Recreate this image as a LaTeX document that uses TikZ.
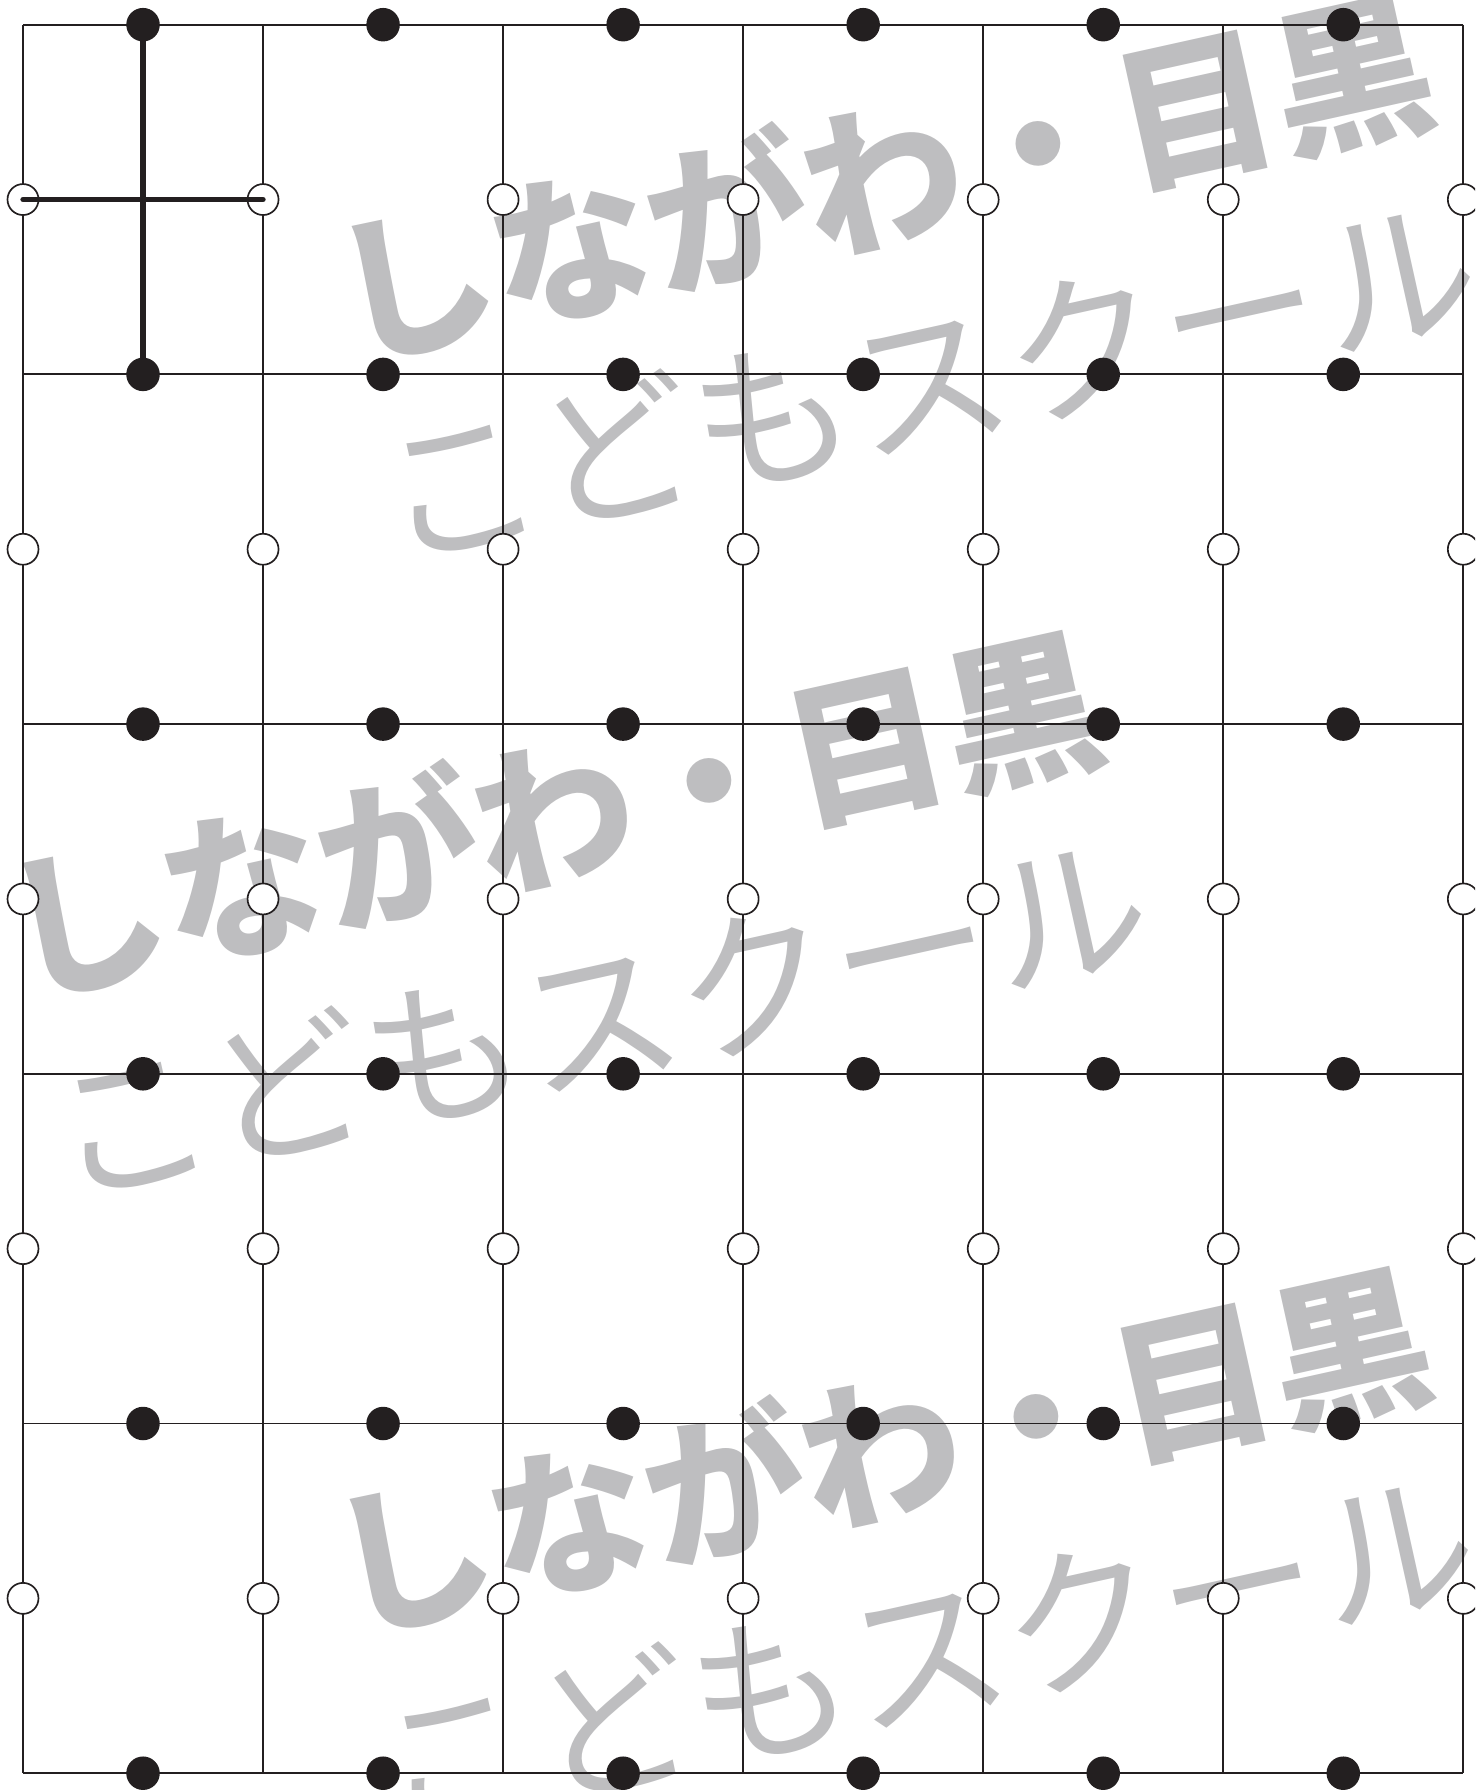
\documentclass[tikz,border=0pt]{standalone}
\usepackage{fontspec}
\newfontfamily\cjk{Noto Sans CJK JP}
\definecolor{inkblack}{RGB}{35,31,32}
\definecolor{markgray}{RGB}{190,190,192}

\begin{document}
\begin{tikzpicture}[
  x=0.02cm, y=-0.02cm,
  gridline/.style={line width=1.1pt, draw=inkblack},
  dot/.style={circle, fill=inkblack, inner sep=0pt, minimum size=0.67cm},
  ring/.style={circle, draw=inkblack, fill=white, line width=0.95pt, inner sep=0pt, minimum size=0.62cm},
  bar/.style={line width=3pt, draw=inkblack, line cap=round},
  watermark/.style={rotate=12.5, text=markgray, align=center,
    font=\cjk\fontsize{91}{118}\selectfont}
]
  \useasboundingbox (0,0) rectangle (1475,1790);
  \clip (0,0) rectangle (1475,1790);

  % watermark, three times
  \foreach \wx/\wy [count=\k] in {904/274, 575/911, 902/1547}
    \node[watermark] (wm-\k) at (\wx,\wy) {\textbf{しながわ・目黒}\\こどもスクール};

  % grid lines
  \foreach \i in {0,...,6}
    \draw[gridline] (23+\i*240.05,24.7) -- (23+\i*240.05,1773.3);
  \foreach \j in {0,...,5}
    \draw[gridline] (23,24.7+\j*349.7) -- (1463.3,24.7+\j*349.7);

  % open rings on vertical edges, dots on horizontal edges
  \foreach \i in {0,...,6}
    \foreach \j in {0,...,4}
      \node[ring] (v-\i-\j) at (23+\i*240.05,24.7+\j*349.7+174.85) {};
  \foreach \i in {0,...,5}
    \foreach \j in {0,...,5}
      \node[dot] (h-\i-\j) at (23+\i*240.05+120.025,24.7+\j*349.7) {};

  % the cross in the first cell
  \draw[bar] (v-0-0.center) -- (v-1-0.center);
  \draw[bar] (h-0-0.center) -- (h-0-1.center);
\end{tikzpicture}
\end{document}
